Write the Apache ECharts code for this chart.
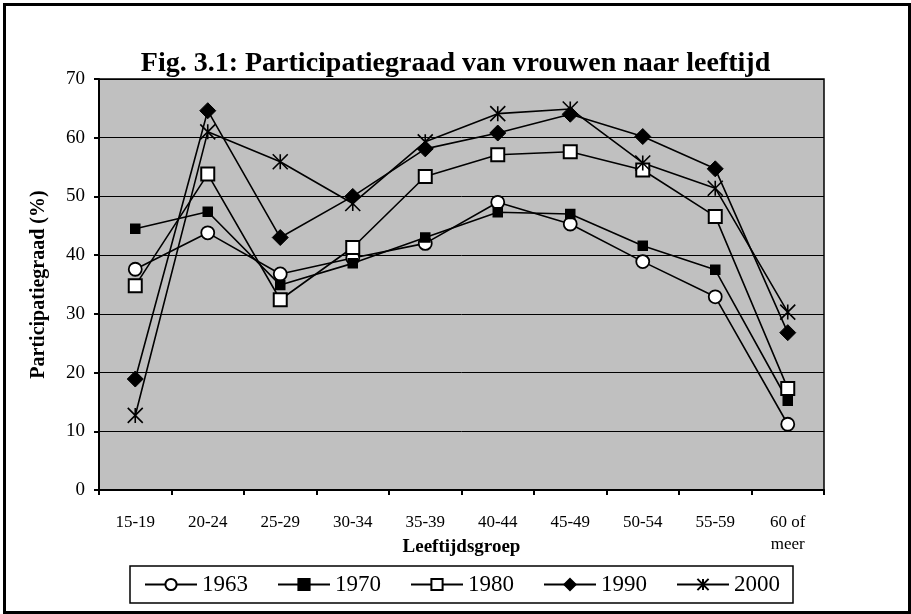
<!DOCTYPE html>
<html>
<head>
<meta charset="utf-8">
<script src="https://cdn.jsdelivr.net/npm/echarts@6/dist/echarts.min.js"></script>
<style>
  html, body { margin: 0; padding: 0; background: #fff; }
  #chart { width: 911px; height: 614px; }
</style>
</head>
<body>
<div id="chart"></div>
<script>
// leeftijdsgroepen
const categories = ['15-19', '20-24', '25-29', '30-34', '35-39', '40-44', '45-49', '50-54', '55-59', '60 of\nmeer']
// participatiegraad per jaar (%)
const v1963 = [37.6, 43.8, 36.8, 39.5, 42.0, 49.0, 45.3, 38.9, 32.9, 11.2]
const v1970 = [44.5, 47.4, 34.9, 38.6, 43.0, 47.3, 47.0, 41.6, 37.5, 15.2]
const v1980 = [34.8, 53.8, 32.4, 41.3, 53.4, 57.1, 57.6, 54.5, 46.6, 17.3]
const v1990 = [18.9, 64.6, 43.0, 50.0, 58.1, 60.8, 64.0, 60.2, 54.7, 26.8]
const v2000 = [12.7, 61.0, 55.9, 48.8, 59.3, 64.1, 64.9, 55.7, 51.4, 30.3]
const yTicks = [0, 10, 20, 30, 40, 50, 60, 70]

const FONT = "'Liberation Serif', 'Times New Roman', serif"

//init
const mychart = echarts.init(document.getElementById('chart'))

// asterisk marker: X plus vertical stroke
const asterisk = 'path://M0,0L10,10M10,0L0,10M5,0L5,10'

function serie(name, data, symbol, size, fill, borderW) {
    return {
        name: name,
        type: 'line',
        data: data,
        symbol: symbol,
        symbolSize: size,
        showAllSymbol: true,
        lineStyle: { color: '#000', width: 1.6 },
        itemStyle: { color: fill, borderColor: '#000', borderWidth: borderW },
        emphasis: { disabled: true },
        animation: false
    }
}

const option = {
    backgroundColor: '#fff',
    title: {
        text: 'Fig. 3.1: Participatiegraad van vrouwen naar leeftijd',
        left: 'center',
        top: 45,
        textStyle: { fontFamily: FONT, fontSize: 28, fontWeight: 'bold', color: '#000' }
    },
    legend: {
        left: 130,
        top: 566,
        width: 663,
        height: 37,
        padding: [7, 13, 7, 14],
        itemGap: 29,
        itemWidth: 52,
        itemHeight: 14,
        backgroundColor: '#fff',
        borderColor: '#000',
        borderWidth: 1.5,
        textStyle: { fontFamily: FONT, fontSize: 23, color: '#000' },
        data: ['1963', '1970', '1980', '1990', '2000']
    },
    grid: {
        left: 99,
        right: 87,
        top: 79,
        bottom: 124,
        show: true,
        backgroundColor: '#c0c0c0',
        borderColor: '#000',
        borderWidth: 1.5
    },
    xAxis: {
        type: 'category',
        data: categories,
        boundaryGap: true,
        name: 'Leeftijdsgroep',
        nameLocation: 'middle',
        nameGap: 48,
        nameMoveOverlap: false,
        nameTextStyle: { fontFamily: FONT, fontSize: 19, fontWeight: 'bold', color: '#000' },
        axisLine: { lineStyle: { color: '#000', width: 2 } },
        axisTick: { show: true, inside: false, length: 5, lineStyle: { color: '#000', width: 2 } },
        axisLabel: { fontFamily: FONT, fontSize: 17, color: '#000', margin: 22, lineHeight: 22, interval: 0 },
        splitLine: { show: false }
    },
    yAxis: {
        type: 'value',
        min: yTicks[0],
        max: yTicks[yTicks.length - 1],
        interval: 10,
        name: 'Participatiegraad (%)',
        nameLocation: 'middle',
        nameGap: 50,
        nameMoveOverlap: false,
        nameRotate: 90,
        nameTextStyle: { fontFamily: FONT, fontSize: 20, fontWeight: 'bold', color: '#000' },
        axisLine: { show: true, lineStyle: { color: '#000', width: 2 } },
        axisTick: { show: true, inside: false, length: 5, lineStyle: { color: '#000', width: 2 } },
        axisLabel: { fontFamily: FONT, fontSize: 19, color: '#000', margin: 14 },
        splitLine: { show: true, lineStyle: { color: '#000', width: 1 } }
    },
    series: [
        serie('1963', v1963, 'circle', 13, '#fff', 1.8),
        serie('1970', v1970, 'rect', 9, '#000', 1.5),
        serie('1980', v1980, 'rect', 13, '#fff', 2),
        serie('1990', v1990, 'diamond', 16, '#000', 1),
        serie('2000', v2000, asterisk, 15, 'transparent', 1.6)
    ],
    graphic: [{
        type: 'rect',
        left: 2,
        top: 2,
        shape: { width: 905, height: 608 },
        style: { fill: null, stroke: '#000', lineWidth: 3 },
        silent: true
    }]
}
//render
mychart.setOption(option)
</script>
</body>
</html>
